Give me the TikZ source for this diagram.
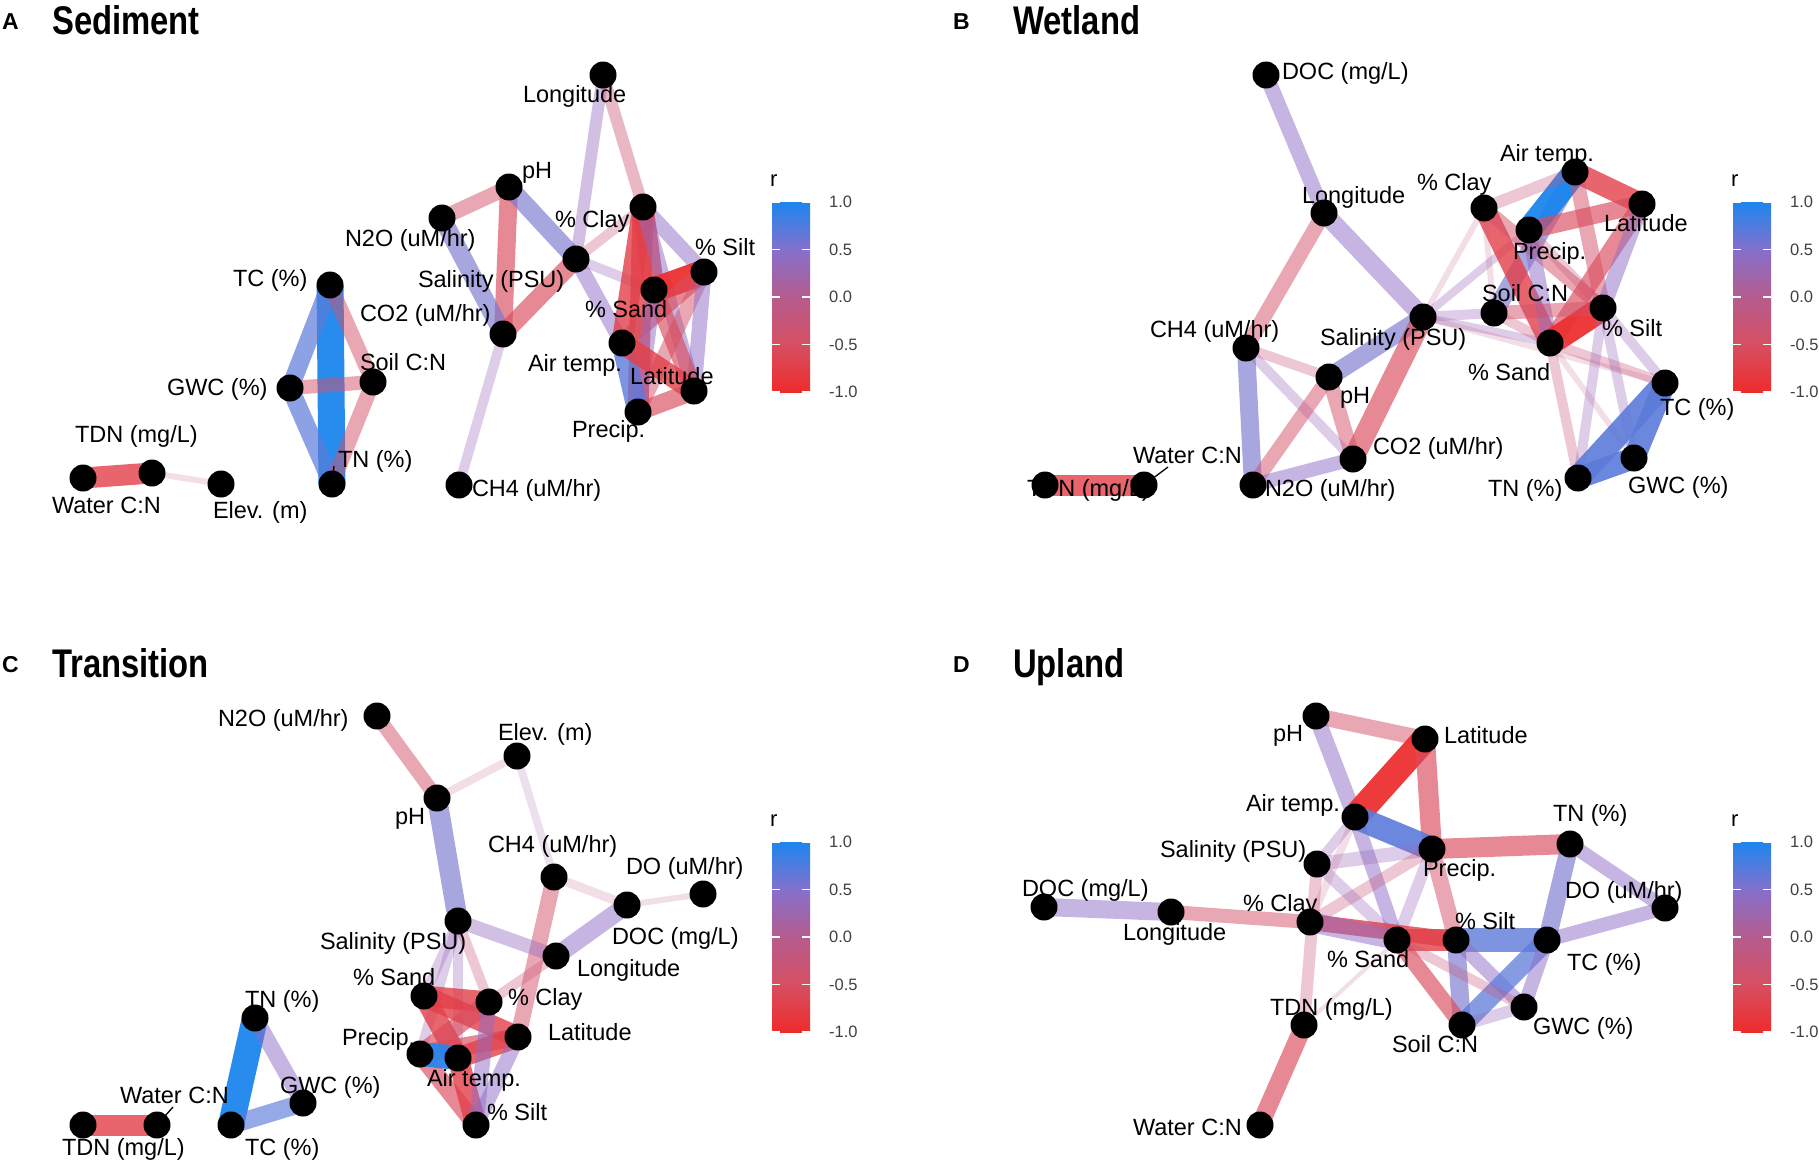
\documentclass[tikz,border=0pt]{standalone}
\usepackage{fontspec}
\setmainfont{Liberation Sans}
\definecolor{cP9}{HTML}{2A84EC}
\definecolor{cP8}{HTML}{5C7BDA}
\definecolor{cP6}{HTML}{7876CE}
\definecolor{cP5}{HTML}{8D6CC6}
\definecolor{cP4}{HTML}{946ABF}
\definecolor{cP3}{HTML}{9A68B8}
\definecolor{cP2}{HTML}{A664A8}
\definecolor{cN9}{HTML}{EC3030}
\definecolor{cN8}{HTML}{E23F48}
\definecolor{cN6}{HTML}{DA4A5A}
\definecolor{cN5}{HTML}{D3506A}
\definecolor{cN4}{HTML}{CE5372}
\definecolor{cN3}{HTML}{C9567A}
\definecolor{cN2}{HTML}{C05A84}
\definecolor{gA}{HTML}{1C86EE}
\definecolor{gB}{HTML}{8470CC}
\definecolor{gC}{HTML}{B55C8E}
\definecolor{gD}{HTML}{D64F62}
\definecolor{gE}{HTML}{EE2C2C}
\pgfdeclareverticalshading{rbar}{100bp}{color(0bp)=(gE); color(25bp)=(gE); color(37.5bp)=(gD); color(50bp)=(gC); color(62.5bp)=(gB); color(75bp)=(gA); color(100bp)=(gA)}
\tikzset{
  ep9/.style={draw=cP9, draw opacity=.95, line width=25pt},
  ep8/.style={draw=cP8, draw opacity=.8, line width=21pt},
  ep6/.style={draw=cP6, draw opacity=.65, line width=18pt},
  ep5/.style={draw=cP5, draw opacity=.5, line width=15pt},
  ep4/.style={draw=cP4, draw opacity=.42, line width=12pt},
  ep3/.style={draw=cP3, draw opacity=.33, line width=10pt},
  ep2/.style={draw=cP2, draw opacity=.2, line width=7pt},
  en9/.style={draw=cN9, draw opacity=.95, line width=25pt},
  en8/.style={draw=cN8, draw opacity=.8, line width=21pt},
  en6/.style={draw=cN6, draw opacity=.65, line width=18pt},
  en5/.style={draw=cN5, draw opacity=.5, line width=15pt},
  en4/.style={draw=cN4, draw opacity=.42, line width=12pt},
  en3/.style={draw=cN3, draw opacity=.33, line width=10pt},
  en2/.style={draw=cN2, draw opacity=.2, line width=6pt},
  dot/.style={circle, fill=black, minimum size=27pt, inner sep=0pt},
  lab/.style={font=\fontsize{23.5}{28}\selectfont, anchor=base west, inner sep=0pt, outer sep=0pt},
  ttl/.style={font=\fontsize{40}{48}\selectfont\bfseries, anchor=base west, inner sep=0pt},
  ltr/.style={font=\fontsize{23}{27}\selectfont\bfseries, anchor=base west, inner sep=0pt},
  tick/.style={font=\fontsize{16.5}{20}\selectfont, text=black!75, anchor=west, inner sep=0pt},
  rlab/.style={font=\fontsize{22}{26}\selectfont, anchor=base west, inner sep=0pt},
  leader/.style={draw=black, line width=1.3pt}
}
\begin{document}
\begin{tikzpicture}[x=1pt,y=-1pt]
\useasboundingbox (0,0) rectangle (1819,1165);
% ---------------- coordinates ----------------
% Panel A
\coordinate (aLon) at (603,75);
\coordinate (apH) at (509,187);
\coordinate (aN2O) at (442,218);
\coordinate (aSal) at (576,259);
\coordinate (aCO2) at (503,334);
\coordinate (aCH4) at (459,485);
\coordinate (aClay) at (643,207);
\coordinate (aSilt) at (704,272);
\coordinate (aSand) at (654,290);
\coordinate (aAir) at (622,343);
\coordinate (aPrec) at (638,412);
\coordinate (aLat) at (694,391);
\coordinate (aTC) at (330,285);
\coordinate (aGWC) at (290,388);
\coordinate (aSoil) at (373,382);
\coordinate (aTN) at (332,484);
\coordinate (aTDN) at (152,473);
\coordinate (aWat) at (83,478);
\coordinate (aElev) at (221,484);
% Panel B
\coordinate (bDOC) at (1266,75);
\coordinate (bLon) at (1324,213);
\coordinate (bCH4) at (1246,348);
\coordinate (bpH) at (1329,377);
\coordinate (bCO2) at (1353,459);
\coordinate (bN2O) at (1253,485);
\coordinate (bTDN) at (1045,485);
\coordinate (bWat) at (1144,485);
\coordinate (bSal) at (1423,317);
\coordinate (bAir) at (1575,172);
\coordinate (bClay) at (1484,208);
\coordinate (bLat) at (1642,204);
\coordinate (bPrec) at (1529,230);
\coordinate (bSoil) at (1494,313);
\coordinate (bSilt) at (1603,308);
\coordinate (bSand) at (1550,343);
\coordinate (bTC) at (1665,383);
\coordinate (bGWC) at (1634,458);
\coordinate (bTN) at (1578,478);
% Panel C
\coordinate (cN2O) at (377,716);
\coordinate (cpH) at (437,798);
\coordinate (cElev) at (517,756);
\coordinate (cCH4) at (554,877);
\coordinate (cDO) at (703,894);
\coordinate (cDOC) at (627,905);
\coordinate (cSal) at (458,921);
\coordinate (cLon) at (556,956);
\coordinate (cSand) at (424,996);
\coordinate (cClay) at (489,1002);
\coordinate (cLat) at (518,1037);
\coordinate (cPrec) at (420,1054);
\coordinate (cAir) at (458,1058);
\coordinate (cSilt) at (476,1125);
\coordinate (cTN) at (255,1018);
\coordinate (cGWC) at (303,1103);
\coordinate (cTC) at (231,1125);
\coordinate (cTDN) at (83,1125);
\coordinate (cWat) at (157,1125);
% Panel D
\coordinate (dpH) at (1316,716);
\coordinate (dLat) at (1425,739);
\coordinate (dAir) at (1355,817);
\coordinate (dPrec) at (1432,849);
\coordinate (dSal) at (1317,864);
\coordinate (dDOC) at (1044,907);
\coordinate (dLon) at (1171,912);
\coordinate (dClay) at (1310,922);
\coordinate (dSand) at (1397,940);
\coordinate (dSilt) at (1456,940);
\coordinate (dTC) at (1547,940);
\coordinate (dTN) at (1570,844);
\coordinate (dDO) at (1665,908);
\coordinate (dGWC) at (1524,1007);
\coordinate (dSoil) at (1462,1025);
\coordinate (dTDN) at (1304,1025);
\coordinate (dWat) at (1260,1125);
% leader ends
\coordinate (aTNl) at (334,466);
\coordinate (bWatl) at (1168,467);
\coordinate (cWatl) at (173,1107);

% ---------------- edges A ----------------
\draw[ep4] (aLon) -- (aSal);
\draw[en4] (aLon) -- (aClay);
\draw[en5] (apH) -- (aN2O);
\draw[en6] (apH) -- (aCO2);
\draw[ep6] (apH) -- (aSal);
\draw[ep5] (aSal) -- (aAir);
\draw[ep6] (aN2O) -- (aCO2);
\draw[en6] (aCO2) -- (aSal);
\draw[ep3] (aCO2) -- (aCH4);
\draw[en3] (aSal) -- (aClay);
\draw[ep3] (aSal) -- (aSand);
\draw[ep5] (aClay) -- (aSilt);
\draw[en8] (aClay) -- (aSand);
\draw[en8] (aClay) -- (aAir);
\draw[en8] (aClay) -- (aPrec);
\draw[ep5] (aClay) -- (aLat);
\draw[en9] (aSilt) -- (aSand);
\draw[en6] (aSilt) -- (aAir);
\draw[en5] (aSilt) -- (aPrec);
\draw[ep5] (aSilt) -- (aLat);
\draw[en6] (aSand) -- (aLat);
\draw[ep5] (aSand) -- (aPrec);
\draw[ep8] (aAir) -- (aPrec);
\draw[en8] (aAir) -- (aLat);
\draw[en6] (aPrec) -- (aLat);
\draw[ep9, line width=27pt, draw=gA] (aTC) -- (aTN);
\draw[ep8, line width=18pt, draw opacity=.7] (aTC) -- (aGWC);
\draw[ep8, line width=18pt, draw opacity=.7] (aGWC) -- (aTN);
\draw[en5] (aTC) -- (aSoil);
\draw[en5, line width=14pt] (aGWC) -- (aSoil);
\draw[en5] (aSoil) -- (aTN);
\draw[en8] (aTDN) -- (aWat);
\draw[en2] (aTDN) -- (aElev);
% ---------------- edges B ----------------
\draw[ep5] (bDOC) -- (bLon);
\draw[en5] (bLon) -- (bCH4);
\draw[ep5, line width=18pt] (bLon) -- (bSal);
\draw[en3] (bCH4) -- (bpH);
\draw[ep6] (bCH4) -- (bN2O);
\draw[ep3] (bCH4) -- (bCO2);
\draw[ep6] (bpH) -- (bSal);
\draw[en5, line width=14pt] (bpH) -- (bN2O);
\draw[en5] (bpH) -- (bCO2);
\draw[en6, line width=21pt] (bSal) -- (bCO2);
\draw[ep5, line width=14pt] (bN2O) -- (bCO2);
\draw[en8] (bTDN) -- (bWat);
\draw[en2] (bSal) -- (bClay);
\draw[ep3] (bSal) -- (bSoil);
\draw[ep3, line width=8pt] (bSal) -- (bPrec);
\draw[ep3, line width=8pt] (bSal) -- (bSand);
\draw[en2] (bSal) -- (bTC);
\draw[ep6] (bAir) -- (bSoil);
\draw[ep9, draw=gA] (bAir) -- (bPrec);
\draw[en3, line width=12pt] (bAir) -- (bClay);
\draw[en8] (bAir) -- (bLat);
\draw[en5] (bAir) -- (bSilt);
\draw[en8] (bClay) -- (bSand);
\draw[en5, line width=14pt] (bClay) -- (bSilt);
\draw[en2] (bClay) -- (bSoil);
\draw[en6] (bPrec) -- (bLat);
\draw[ep5] (bPrec) -- (bSand);
\draw[en3] (bPrec) -- (bSilt);
\draw[en6] (bLat) -- (bSand);
\draw[ep5] (bLat) -- (bSilt);
\draw[en9] (bSilt) -- (bSand);
\draw[en3] (bSoil) -- (bSand);
\draw[en5, line width=14pt] (bSoil) -- (bSilt);
\draw[en3] (bSand) -- (bTN);
\draw[en3] (bSand) -- (bTC);
\draw[en2] (bSand) -- (bGWC);
\draw[ep3] (bSilt) -- (bTN);
\draw[ep3] (bSilt) -- (bGWC);
\draw[ep3] (bSilt) -- (bTC);
\draw[ep8, line width=22pt, draw opacity=.9] (bTC) -- (bGWC);
\draw[ep8, line width=24pt, draw opacity=.9] (bTC) -- (bTN);
\draw[ep8, line width=22pt, draw opacity=.9] (bGWC) -- (bTN);
% ---------------- edges C ----------------
\draw[en5, line width=14pt] (cN2O) -- (cpH);
\draw[en2, line width=8pt] (cpH) -- (cElev);
\draw[ep6, line width=20pt] (cpH) -- (cSal);
\draw[ep2, line width=8pt] (cElev) -- (cCH4);
\draw[en2, line width=9pt] (cCH4) -- (cDOC);
\draw[en2] (cDOC) -- (cDO);
\draw[en5, line width=16pt] (cCH4) -- (cLat);
\draw[ep5, line width=18pt] (cDOC) -- (cLon);
\draw[ep4, line width=14pt] (cSal) -- (cLon);
\draw[en3] (cLon) -- (cClay);
\draw[en3] (cSal) -- (cClay);
\draw[ep3] (cSal) -- (cSand);
\draw[ep3] (cSal) -- (cPrec);
\draw[ep3] (cSal) -- (cAir);
\draw[en8] (cSand) -- (cClay);
\draw[en8] (cSand) -- (cLat);
\draw[en8] (cSand) -- (cAir);
\draw[en6] (cClay) -- (cPrec);
\draw[en6] (cPrec) -- (cLat);
\draw[en8] (cAir) -- (cLat);
\draw[en6] (cPrec) -- (cSilt);
\draw[en8] (cAir) -- (cSilt);
\draw[ep5] (cLat) -- (cSilt);
\draw[ep5] (cClay) -- (cSilt);
\draw[ep9, line width=24pt] (cPrec) -- (cAir);
\draw[ep9, line width=26pt, draw=gA] (cTN) -- (cTC);
\draw[ep5, line width=16pt] (cTN) -- (cGWC);
\draw[ep6, line width=18pt, draw=cP8] (cGWC) -- (cTC);
\draw[en8] (cTDN) -- (cWat);
% ---------------- edges D ----------------
\draw[en5, line width=16pt] (dpH) -- (dLat);
\draw[ep5, line width=16pt] (dpH) -- (dAir);
\draw[ep5, line width=14pt] (dAir) -- (dSand);
\draw[en9, line width=26pt] (dLat) -- (dAir);
\draw[en6, line width=20pt] (dLat) -- (dPrec);
\draw[ep8, line width=24pt, draw opacity=.9] (dAir) -- (dPrec);
\draw[en6, line width=20pt] (dPrec) -- (dTN);
\draw[en5, line width=16pt] (dPrec) -- (dSilt);
\draw[ep3, line width=14pt] (dPrec) -- (dSal);
\draw[en3, line width=12pt] (dPrec) -- (dClay);
\draw[ep3, line width=12pt] (dPrec) -- (dSand);
\draw[ep3] (dAir) -- (dSal);
\draw[en2, line width=8pt] (dAir) -- (dClay);
\draw[ep3, line width=12pt] (dSal) -- (dSand);
\draw[en3, line width=12pt] (dSal) -- (dTDN);
\draw[ep5, line width=18pt] (dDOC) -- (dLon);
\draw[en5, line width=14pt] (dLon) -- (dClay);
\draw[en8, line width=16pt] (dClay) -- (dSilt);
\draw[ep5, line width=20pt] (dClay) -- (dSand);
\draw[en8, line width=22pt] (dSand) -- (dSilt);
\draw[ep8, line width=24pt] (dSilt) -- (dTC);
\draw[ep6] (dSilt) -- (dSoil);
\draw[ep5, line width=14pt] (dSilt) -- (dGWC);
\draw[ep6] (dTC) -- (dTN);
\draw[ep5, line width=14pt] (dTC) -- (dDO);
\draw[ep5, line width=14pt] (dTN) -- (dDO);
\draw[ep8, line width=20pt, draw opacity=.75] (dTC) -- (dSoil);
\draw[ep5, line width=14pt] (dTC) -- (dGWC);
\draw[ep3, line width=12pt] (dSoil) -- (dGWC);
\draw[en6, line width=16pt] (dSand) -- (dSoil);
\draw[en3] (dSand) -- (dGWC);
\draw[en2, line width=4pt] (dTDN) -- (dSand);
\draw[en6] (dTDN) -- (dWat);

% ---------------- leaders ----------------
\draw[leader] (aTN) -- (aTNl);
\draw[leader] (bWat) -- (bWatl);
\draw[leader] (cWat) -- (cWatl);

% ---------------- labels A ----------------
\node[lab] (aLonL) at (523,102.4) {Longitude};
\node[lab] (apHL) at (522,178.4) {pH};
\node[lab] (aN2OL) at (345,246.4) {N2O (uM/hr)};
\node[lab] (aClayL) at (555,227.4) {\% Clay};
\node[lab] (aSiltL) at (695,255.4) {\% Silt};
\node[lab] (aTCL) at (233,286.4) {TC (\%)};
\node[lab] (aCO2L) at (360,321.4) {CO2 (uM/hr)};
\node[lab] (aSalL) at (418,287.4) {Salinity (PSU)};
\node[lab] (aSandL) at (585,317.4) {\% Sand};
\node[lab] (aSoilL) at (360,370.4) {Soil C:N};
\node[lab] (aGWCL) at (167,395.4) {GWC (\%)};
\node[lab] (aAirL) at (528,371.4) {Air temp.};
\node[lab] (aLatL) at (630,384.4) {Latitude};
\node[lab] (aPrecL) at (572,437.4) {Precip.};
\node[lab] (aTDNL) at (75,442.4) {TDN (mg/L)};
\node[lab] (aTNL) at (338,467.4) {TN (\%)};
\node[lab] (aCH4L) at (472,496.4) {CH4 (uM/hr)};
\node[lab] (aWatL) at (52,513.4) {Water C:N};
\node[lab] (aElevL) at (213,518.4) {Elev. (m)};
% ---------------- labels B ----------------
\node[lab] (bDOCL) at (1282,79.4) {DOC (mg/L)};
\node[lab] (bAirL) at (1500,161.4) {Air temp.};
\node[lab] (bClayL) at (1417,190.4) {\% Clay};
\node[lab] (bLonL) at (1302,203.4) {Longitude};
\node[lab] (bLatL) at (1604,231.4) {Latitude};
\node[lab] (bPrecL) at (1513,259.4) {Precip.};
\node[lab] (bSoilL) at (1482,301.4) {Soil C:N};
\node[lab] (bCH4L) at (1150,337.4) {CH4 (uM/hr)};
\node[lab] (bSalL) at (1320,345.4) {Salinity (PSU)};
\node[lab] (bSiltL) at (1602,336.4) {\% Silt};
\node[lab] (bSandL) at (1468,380.4) {\% Sand};
\node[lab] (bpHL) at (1340,403.4) {pH};
\node[lab] (bTCL) at (1660,415.4) {TC (\%)};
\node[lab] (bCO2L) at (1373,454.4) {CO2 (uM/hr)};
\node[lab] (bWatL) at (1133,463.4) {Water C:N};
\node[lab] (bTDNL) at (1027,496.4) {TDN (mg/L)};
\node[lab] (bN2OL) at (1265,496.4) {N2O (uM/hr)};
\node[lab] (bTNL) at (1488,496.4) {TN (\%)};
\node[lab] (bGWCL) at (1628,493.4) {GWC (\%)};
% ---------------- labels C ----------------
\node[lab] (cN2OL) at (218,726.4) {N2O (uM/hr)};
\node[lab] (cElevL) at (498,740.4) {Elev. (m)};
\node[lab] (cpHL) at (395,824.4) {pH};
\node[lab] (cCH4L) at (488,852.4) {CH4 (uM/hr)};
\node[lab] (cDOL) at (626,874.4) {DO (uM/hr)};
\node[lab] (cDOCL) at (612,944.4) {DOC (mg/L)};
\node[lab] (cSalL) at (320,949.4) {Salinity (PSU)};
\node[lab] (cLonL) at (577,976.4) {Longitude};
\node[lab] (cSandL) at (353,985.4) {\% Sand};
\node[lab] (cClayL) at (508,1005.4) {\% Clay};
\node[lab] (cTNL) at (245,1007.4) {TN (\%)};
\node[lab] (cLatL) at (548,1040.4) {Latitude};
\node[lab] (cPrecL) at (342,1045.4) {Precip.};
\node[lab] (cAirL) at (427,1086.4) {Air temp.};
\node[lab] (cGWCL) at (280,1093.4) {GWC (\%)};
\node[lab] (cWatL) at (120,1103.4) {Water C:N};
\node[lab] (cSiltL) at (487,1120.4) {\% Silt};
\node[lab] (cTDNL) at (62,1155.4) {TDN (mg/L)};
\node[lab] (cTCL) at (245,1155.4) {TC (\%)};
% ---------------- labels D ----------------
\node[lab] (dpHL) at (1273,741.4) {pH};
\node[lab] (dLatL) at (1444,743.4) {Latitude};
\node[lab] (dAirL) at (1246,811.4) {Air temp.};
\node[lab] (dTNL) at (1553,821.4) {TN (\%)};
\node[lab] (dSalL) at (1160,857.4) {Salinity (PSU)};
\node[lab] (dPrecL) at (1423,876.4) {Precip.};
\node[lab] (dDOCL) at (1022,896.4) {DOC (mg/L)};
\node[lab] (dDOL) at (1565,898.4) {DO (uM/hr)};
\node[lab] (dClayL) at (1243,911.4) {\% Clay};
\node[lab] (dSiltL) at (1455,929.4) {\% Silt};
\node[lab] (dLonL) at (1123,940.4) {Longitude};
\node[lab] (dSandL) at (1327,967.4) {\% Sand};
\node[lab] (dTCL) at (1567,970.4) {TC (\%)};
\node[lab] (dTDNL) at (1270,1015.4) {TDN (mg/L)};
\node[lab] (dGWCL) at (1533,1034.4) {GWC (\%)};
\node[lab] (dSoilL) at (1392,1052.4) {Soil C:N};
\node[lab] (dWatL) at (1133,1135.4) {Water C:N};

% ---------------- dots ----------------
\foreach \n in {aLon,apH,aN2O,aSal,aCO2,aCH4,aClay,aSilt,aSand,aAir,aPrec,aLat,aTC,aGWC,aSoil,aTN,aTDN,aWat,aElev,
  bDOC,bLon,bCH4,bpH,bCO2,bN2O,bTDN,bWat,bSal,bAir,bClay,bLat,bPrec,bSoil,bSilt,bSand,bTC,bGWC,bTN,
  cN2O,cpH,cElev,cCH4,cDO,cDOC,cSal,cLon,cSand,cClay,cLat,cPrec,cAir,cSilt,cTN,cGWC,cTC,cTDN,cWat,
  dpH,dLat,dAir,dPrec,dSal,dDOC,dLon,dClay,dSand,dSilt,dTC,dTN,dDO,dGWC,dSoil,dTDN,dWat}
  \node[dot] (\n D) at (\n) {};

% ---------------- titles ----------------
\node[ltr] (aLetter) at (2,29) {A};
\node[ttl] (aTitle) at (52,34) {\scalebox{0.82}[1]{Sediment}};
\node[ltr] (bLetter) at (953,29) {B};
\node[ttl] (bTitle) at (1013,34) {\scalebox{0.82}[1]{Wetland}};
\node[ltr] (cLetter) at (2,672) {C};
\node[ttl] (cTitle) at (52,677) {\scalebox{0.82}[1]{Transition}};
\node[ltr] (dLetter) at (953,672) {D};
\node[ttl] (dTitle) at (1013,677) {\scalebox{0.82}[1]{Upland}};

% ---------------- legends ----------------
\foreach \ox/\oy/\p in {0/0/a, 961/0/b, 0/640/c, 961/640/d} {
  \node[rlab] (\p R) at (770+\ox,186+\oy) {r};
  \shade[shading=rbar] (772+\ox,202+\oy) rectangle (810+\ox,392+\oy);
  \foreach \ty/\tl/\tn in {202/1.0/1, 249.5/0.5/2, 297/0.0/3, 344.5/-0.5/4, 392/-1.0/5} {
    \draw[white, line width=1.1pt] (772+\ox,\ty+\oy) -- ++(7.6,0);
    \draw[white, line width=1.1pt] (810+\ox,\ty+\oy) -- ++(-7.6,0);
    \node[tick] (\p T\tn) at (829+\ox,\ty+\oy) {\tl};
  }
}
\end{tikzpicture}
\end{document}
